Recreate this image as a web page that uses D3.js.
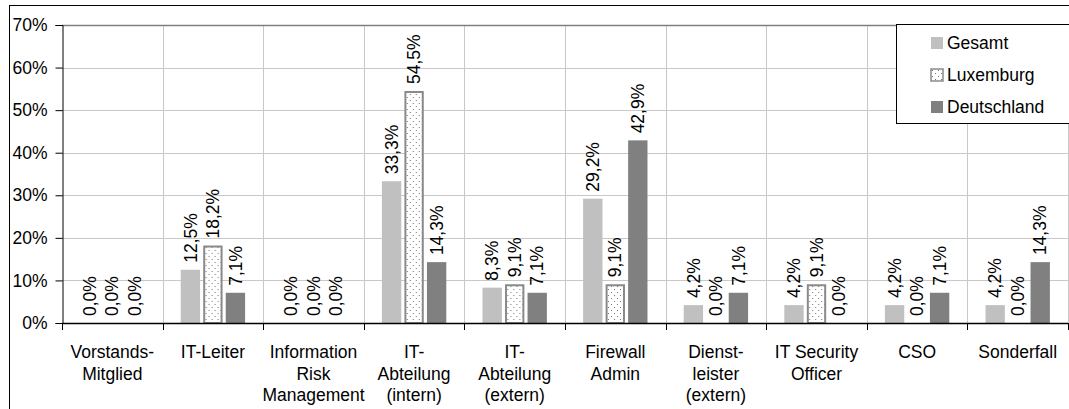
<!DOCTYPE html>
<html>
<head>
<meta charset="utf-8">
<script src="https://cdn.jsdelivr.net/npm/d3@7"></script>
<style>
  html, body { margin: 0; padding: 0; background: #fff; }
  svg { display: block; font-family: "Liberation Sans", Arial, sans-serif; }
</style>
</head>
<body>
<svg id="chart" width="1069" height="409"></svg>
<script>
// Categories (line breaks mark where the axis label wraps)
const categories = [
  "Vorstands-\nMitglied",
  "IT-Leiter",
  "Information\nRisk\nManagement",
  "IT-\nAbteilung\n(intern)",
  "IT-\nAbteilung\n(extern)",
  "Firewall\nAdmin",
  "Dienst-\nleister\n(extern)",
  "IT Security\nOfficer",
  "CSO",
  "Sonderfall"
];
const seriesNames = ["Gesamt", "Luxemburg", "Deutschland"];
const gesamt      = [0.0, 12.5, 0.0, 33.3, 8.3, 29.2, 4.2, 4.2, 4.2, 4.2];
const luxemburg   = [0.0, 18.2, 0.0, 54.5, 9.1,  9.1, 0.0, 9.1, 0.0, 0.0];
const deutschland = [0.0,  7.1, 0.0, 14.3, 7.1, 42.9, 7.1, 0.0, 7.1, 14.3];
const yTicks = [0, 10, 20, 30, 40, 50, 60, 70];

const FONT = 17.5;

const seriesValues = { Gesamt: gesamt, Luxemburg: luxemburg, Deutschland: deutschland };
const rows = categories.map((c, i) => ({
  cat: c,
  values: seriesNames.map(s => ({ series: s, value: seriesValues[s][i] }))
}));

const svg = d3.select("#chart");
const plot = { left: 62, right: 1068, top: 25, bottom: 323 };

const x0 = d3.scaleBand().domain(categories).range([plot.left, plot.right]);
const x1 = d3.scaleBand().domain(seriesNames)
  .range([x0.step() * 0.18, x0.step() * 0.82]).paddingInner(0.14);
const y = d3.scaleLinear().domain([0, 70]).range([plot.bottom, plot.top]);

// dotted fill for Luxemburg
const defs = svg.append("defs");
const pat = defs.append("pattern").attr("id", "dots")
  .attr("patternUnits", "userSpaceOnUse").attr("width", 6).attr("height", 6);
pat.append("rect").attr("width", 6).attr("height", 6).attr("fill", "#fff");
pat.append("rect").attr("x", 1).attr("y", 1).attr("width", 1).attr("height", 1).attr("fill", "#777");
pat.append("rect").attr("x", 4).attr("y", 4).attr("width", 1).attr("height", 1).attr("fill", "#777");

const fills = { Gesamt: "#c0c0c0", Luxemburg: "url(#dots)", Deutschland: "#808080" };

// outer chart frame
svg.append("rect").attr("x", 9.5).attr("y", 5.5)
  .attr("width", 1100).attr("height", 450)
  .attr("fill", "none").attr("stroke", "#000").attr("stroke-width", 1);

// horizontal gridlines
svg.append("g").selectAll("line").data(yTicks.filter(t => t > 0 && t < 70)).join("line")
  .attr("x1", plot.left).attr("x2", plot.right)
  .attr("y1", d => Math.round(y(d)) + 0.5).attr("y2", d => Math.round(y(d)) + 0.5)
  .attr("stroke", "#c8c8c8").attr("stroke-width", 1);

// vertical gridlines at category boundaries
const bounds = categories.map(c => x0(c)).concat([plot.right]);
svg.append("g").selectAll("line").data(bounds.slice(1)).join("line")
  .attr("x1", d => Math.round(d) + 0.5).attr("x2", d => Math.round(d) + 0.5)
  .attr("y1", plot.top).attr("y2", plot.bottom)
  .attr("stroke", "#c8c8c8").attr("stroke-width", 1);

// top border of plot area
svg.append("line")
  .attr("x1", plot.left).attr("x2", plot.right)
  .attr("y1", Math.round(y(70)) + 0.5).attr("y2", Math.round(y(70)) + 0.5)
  .attr("stroke", "#808080").attr("stroke-width", 1.5);

// bars
const groups = svg.append("g").selectAll("g").data(rows).join("g")
  .attr("transform", d => `translate(${x0(d.cat)},0)`);

groups.selectAll("rect").data(d => d.values.filter(v => v.value > 0)).join("rect")
  .attr("x", d => x1(d.series) + (d.series === "Luxemburg" ? 1 : 0))
  .attr("y", d => y(d.value) + (d.series === "Luxemburg" ? 1 : 0))
  .attr("width", d => x1.bandwidth() - (d.series === "Luxemburg" ? 2 : 0))
  .attr("height", d => y(0) - y(d.value) - (d.series === "Luxemburg" ? 1 : 0))
  .attr("fill", d => fills[d.series])
  .attr("stroke", d => d.series === "Luxemburg" ? "#8a8a8a" : "none")
  .attr("stroke-width", 2);

// value labels, rotated
const fmt = v => v.toFixed(1).replace(".", ",") + "%";
groups.selectAll("text").data(d => d.values).join("text")
  .attr("transform", d => `translate(${x1(d.series) + x1.bandwidth() / 2},${y(d.value) - 7}) rotate(-90)`)
  .attr("text-anchor", "start")
  .attr("dy", "0.35em")
  .attr("font-size", FONT)
  .attr("fill", "#000")
  .text(d => fmt(d.value));

// y axis
const yAxis = d3.axisLeft(y).tickValues(yTicks).tickFormat(d => d + "%")
  .tickSize(7).tickPadding(8);
const gy = svg.append("g").attr("transform", `translate(${plot.left + 0.5},0)`).call(yAxis);
gy.select(".domain").attr("stroke", "#000");
gy.selectAll(".tick line").attr("stroke", "#000");
gy.selectAll(".tick text").attr("font-size", FONT).attr("fill", "#000")
  .attr("font-family", "Liberation Sans, Arial, sans-serif");

// x axis line and boundary ticks
svg.append("line")
  .attr("x1", plot.left).attr("x2", plot.right)
  .attr("y1", plot.bottom + 0.5).attr("y2", plot.bottom + 0.5)
  .attr("stroke", "#000").attr("stroke-width", 1.5);
svg.append("g").selectAll("line").data(bounds).join("line")
  .attr("x1", d => Math.round(d) + 0.5).attr("x2", d => Math.round(d) + 0.5)
  .attr("y1", plot.bottom).attr("y2", plot.bottom + 7)
  .attr("stroke", "#000");

// category labels
const catLabels = svg.append("g").selectAll("text").data(categories).join("text")
  .attr("x", d => x0(d) + x0.bandwidth() / 2)
  .attr("y", 358)
  .attr("text-anchor", "middle")
  .attr("font-size", FONT)
  .attr("fill", "#000");
catLabels.each(function (d) {
  const t = d3.select(this);
  d.split("\n").forEach((line, i) => {
    t.append("tspan").attr("x", x0(d) + x0.bandwidth() / 2)
      .attr("dy", i === 0 ? 0 : 21.5).text(line);
  });
});

// legend
const legend = svg.append("g");
legend.append("rect").attr("x", 896.5).attr("y", 24.5)
  .attr("width", 175).attr("height", 99)
  .attr("fill", "#fff").attr("stroke", "#000").attr("stroke-width", 1);
const items = legend.selectAll("g.item").data(seriesNames).join("g")
  .attr("class", "item")
  .attr("transform", (d, i) => `translate(931,${43 + i * 32})`);
items.append("rect").attr("x", 0).attr("y", -6).attr("width", 12).attr("height", 12)
  .attr("fill", d => fills[d])
  .attr("stroke", d => d === "Luxemburg" ? "#8a8a8a" : "none").attr("stroke-width", 1.5);
items.append("text").attr("x", 16).attr("dy", "0.35em")
  .attr("font-size", FONT).attr("fill", "#000").text(d => d);
</script>
</body>
</html>
